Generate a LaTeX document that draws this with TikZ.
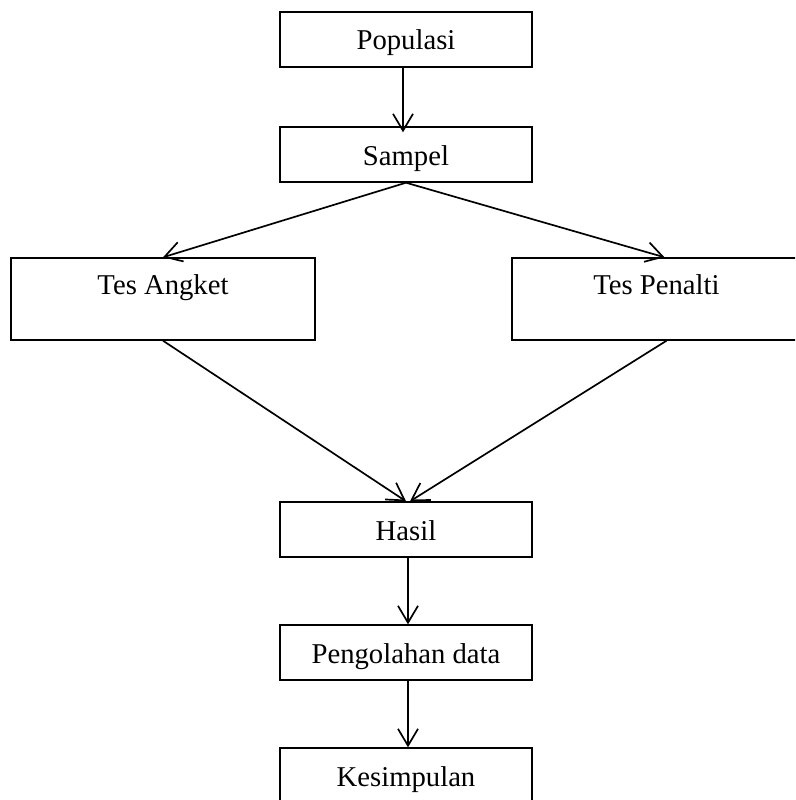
\documentclass[tikz,border=0pt]{standalone}
\usepackage{fontspec}
\setmainfont{Liberation Serif}
\usetikzlibrary{arrows.meta}

\begin{document}
\begin{tikzpicture}[x=0.025cm,y=-0.025cm]
\tikzstyle{every node}+=[inner sep=0pt, font=\fontsize{20.4}{24}\selectfont]
\tikzstyle{box}=[draw, line width=1pt, minimum width=6.3cm, text height=0.95cm, text depth=0.425cm]
\tikzstyle{tallbox}=[draw, line width=1pt, text height=0.9cm, text depth=1.15cm]
\tikzstyle{arr}=[line width=1.2pt, -{Straight Barb[length=4.2mm,width=5mm]}]
\useasboundingbox (0,0) rectangle (795,800);
\clip (0,0) rectangle (795,800);
\node [box] (pop) at (406,39.5) {Populasi};
\node [box] (samp) at (406,154.5) {Sampel};
\node [tallbox, minimum width=7.6cm] (ang) at (163,299) {Tes Angket};
\node [tallbox, minimum width=7.225cm] (pen) at (656.5,299) {Tes Penalti};
\node [box] (has) at (406,529.5) {Hasil};
\node [box] (olah) at (406,652.5) {Pengolahan data};
\node [box] (simp) at (406,775.5) {Kesimpulan};
\draw [arr] ([xshift=-3*0.025cm]pop.south) -- ([xshift=-3*0.025cm,yshift=-6*0.025cm]samp.north);
\draw [arr] (samp.south) -- (ang.north);
\draw [arr] (samp.south) -- ([xshift=8*0.025cm]pen.north);
\draw [arr] (ang.south) -- (has.north);
\draw [arr] ([xshift=10*0.025cm]pen.south) -- ([xshift=4*0.025cm]has.north);
\draw [arr] ([xshift=2*0.025cm]has.south) -- ([xshift=2*0.025cm]olah.north);
\draw [arr] ([xshift=2*0.025cm]olah.south) -- ([xshift=2*0.025cm]simp.north);
\end{tikzpicture}
\end{document}
